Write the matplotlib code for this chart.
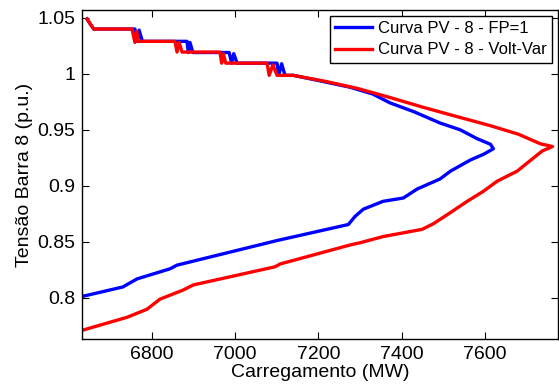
import numpy as np
import matplotlib
matplotlib.use("Agg")
import matplotlib.pyplot as plt
from matplotlib.ticker import FuncFormatter

plt.rcParams['font.family'] = ['Liberation Sans', 'DejaVu Sans']

# Curva PV - 8 - FP=1 (ramo superior + ramo inferior)
p_fp1 = [6645, 6661, 6760, 6766, 6770, 6778, 6885, 6888, 6892, 6899,
         6986, 6992, 6997, 7005, 7101, 7105, 7112, 7120, 7140, 7200,
         7276, 7330, 7372, 7430, 7492, 7540, 7581, 7613, 7620,
         7596, 7565, 7517, 7492, 7437, 7404, 7355, 7308, 7288, 7272,
         7101, 6861, 6844, 6765, 6731, 6633]
v_fp1 = [1.049, 1.040, 1.040, 1.029, 1.039, 1.029, 1.029, 1.019, 1.028, 1.019,
         1.019, 1.0095, 1.018, 1.0095, 1.0095, 0.9986, 1.009, 0.9986, 0.9986, 0.994,
         0.988, 0.982, 0.974, 0.966, 0.956, 0.950, 0.942, 0.937, 0.933,
         0.928, 0.923, 0.913, 0.906, 0.897, 0.889, 0.886, 0.879, 0.8725, 0.8653,
         0.851, 0.829, 0.8257, 0.8167, 0.8095, 0.801]

# Curva PV - 8 - Volt-Var
p_vv = [6645, 6661, 6753, 6760, 6764, 6768, 6856, 6861, 6866, 6873,
        6964, 6968, 6972, 6978, 7077, 7082, 7091, 7101, 7140, 7220,
        7293, 7370, 7452, 7530, 7613, 7680, 7733, 7762,
        7737, 7677, 7629, 7596, 7557, 7509, 7476, 7449, 7355, 7300,
        7276, 7108, 7096, 6900, 6876, 6820, 6789, 6741, 6633]
v_vv = [1.049, 1.040, 1.040, 1.028, 1.038, 1.029, 1.029, 1.0194, 1.028, 1.0194,
        1.0194, 1.0095, 1.018, 1.0095, 1.0095, 0.9986, 1.008, 0.9986, 0.9986, 0.993,
        0.987, 0.979, 0.970, 0.962, 0.9536, 0.946, 0.9374, 0.935,
        0.931, 0.913, 0.904, 0.895, 0.886, 0.874, 0.866, 0.861, 0.8545, 0.849,
        0.847, 0.830, 0.8275, 0.8113, 0.8068, 0.7986, 0.7896, 0.7824, 0.7707]

xticks = [6800, 7000, 7200, 7400, 7600]
yticks = [0.8, 0.85, 0.9, 0.95, 1.0, 1.05]

fig = plt.figure(figsize=(5.59, 3.92), dpi=100)
ax = fig.add_axes([82/559, 53/392, 476/559, 329/392])

ax.plot(p_fp1, v_fp1, color='#0000ff', lw=2.4, label='Curva PV - 8 - FP=1')
ax.plot(p_vv, v_vv, color='#ff0000', lw=2.4, label='Curva PV - 8 - Volt-Var')

ax.set_xlim(6633, 7775)
ax.set_ylim(0.763, 1.057)
ax.set_xticks(xticks)
ax.set_yticks(yticks)
ax.yaxis.set_major_formatter(FuncFormatter(lambda v, pos: '%g' % v))
ax.tick_params(direction='in', top=True, right=True, length=5, width=0.8,
               labelsize=14, pad=5)
for s in ax.spines.values():
    s.set_linewidth(1.0)

ax.set_xlabel('Carregamento (MW)', fontsize=14, labelpad=1)
ax.set_ylabel('Tensão Barra 8 (p.u.)', fontsize=14, labelpad=3)

leg = ax.legend(loc='upper right', fontsize=12, fancybox=False, framealpha=1,
                edgecolor='black', borderaxespad=0.35, handlelength=2.2,
                borderpad=0.3, labelspacing=0.4, handletextpad=0.4)
leg.get_frame().set_linewidth(1.0)

fig.savefig('out.png', dpi=100)
